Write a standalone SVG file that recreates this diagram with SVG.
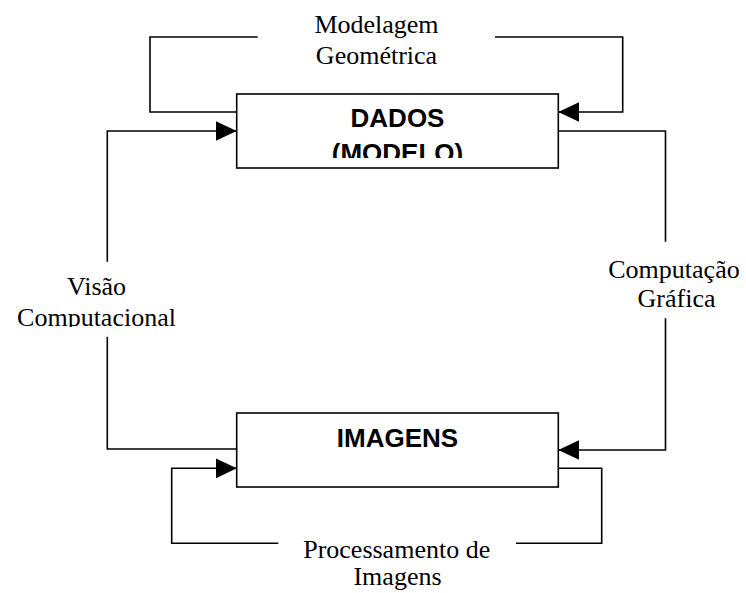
<svg xmlns="http://www.w3.org/2000/svg" width="746" height="593" viewBox="0 0 746 593">
  <style>
    .box { fill: #ffffff; stroke: #000000; stroke-width: 1.6; }
    .conn { fill: none; stroke: #000000; stroke-width: 1.6; }
    .box-label { font-family: "Liberation Sans", Arial, sans-serif; font-weight: bold; font-size: 26px; fill: #000000; text-anchor: middle; }
    .edge-label { font-family: "Liberation Serif", "Times New Roman", serif; font-size: 26px; fill: #000000; text-anchor: middle; }
  </style>
  <defs>
    <marker id="arrow" markerUnits="userSpaceOnUse" markerWidth="22" markerHeight="21" refX="21" refY="10" orient="auto">
      <path d="M0,0 L21,10 L0,20 Z" fill="#000000"/>
    </marker>
    <clipPath id="clip-dados">
      <rect x="236" y="94" width="323" height="64"/>
    </clipPath>
    <clipPath id="clip-visao">
      <rect x="0" y="262" width="236" height="65"/>
    </clipPath>
  </defs>
  <rect width="746" height="593" fill="#ffffff"/>

  <g id="connectors">
    <!-- Modelagem Geometrica: DADOS -> DADOS -->
    <path class="conn" d="M236.7,112 L150,112 L150,37 L257.7,37"/>
    <path class="conn" d="M495,37 L622.7,37 L622.7,112 L558.3,112" marker-end="url(#arrow)"/>
    <!-- Visao Computacional: IMAGENS -> DADOS -->
    <path class="conn" d="M236.7,449 L107.3,449 L107.3,336.7"/>
    <path class="conn" d="M107.3,261.7 L107.3,131 L236.7,131" marker-end="url(#arrow)"/>
    <!-- Computacao Grafica: DADOS -> IMAGENS -->
    <path class="conn" d="M558.3,131 L665.5,131 L665.5,241.7"/>
    <path class="conn" d="M665.5,318.3 L665.5,450 L558.3,450" marker-end="url(#arrow)"/>
    <!-- Processamento de Imagens: IMAGENS -> IMAGENS -->
    <path class="conn" d="M558.3,468.3 L601.7,468.3 L601.7,543.3 L516,543.3"/>
    <path class="conn" d="M278.3,543.3 L171.7,543.3 L171.7,468.3 L236.7,468.3" marker-end="url(#arrow)"/>
  </g>

  <g id="node-dados">
    <rect class="box" x="236.7" y="94" width="321.6" height="74"/>
    <g clip-path="url(#clip-dados)">
      <text class="box-label" x="397.5" y="127.3">DADOS</text>
      <text class="box-label" x="397.5" y="161.5">(MODELO)</text>
    </g>
  </g>

  <g id="node-imagens">
    <rect class="box" x="236.7" y="413" width="321.6" height="74"/>
    <text class="box-label" x="397.5" y="447">IMAGENS</text>
  </g>

  <g id="label-modelagem">
    <text class="edge-label" x="376.5" y="33.3">Modelagem</text>
    <text class="edge-label" x="376.5" y="64">Geométrica</text>
  </g>

  <g id="label-visao" clip-path="url(#clip-visao)">
    <text class="edge-label" x="96.5" y="295">Visão</text>
    <text class="edge-label" x="96.5" y="326">Computacional</text>
  </g>

  <g id="label-computacao">
    <text class="edge-label" x="674" y="278.3">Computação</text>
    <text class="edge-label" x="676.5" y="307.3">Gráfica</text>
  </g>

  <g id="label-processamento">
    <text class="edge-label" x="396.7" y="557.7">Processamento de</text>
    <text class="edge-label" x="397.5" y="585">Imagens</text>
  </g>
</svg>
